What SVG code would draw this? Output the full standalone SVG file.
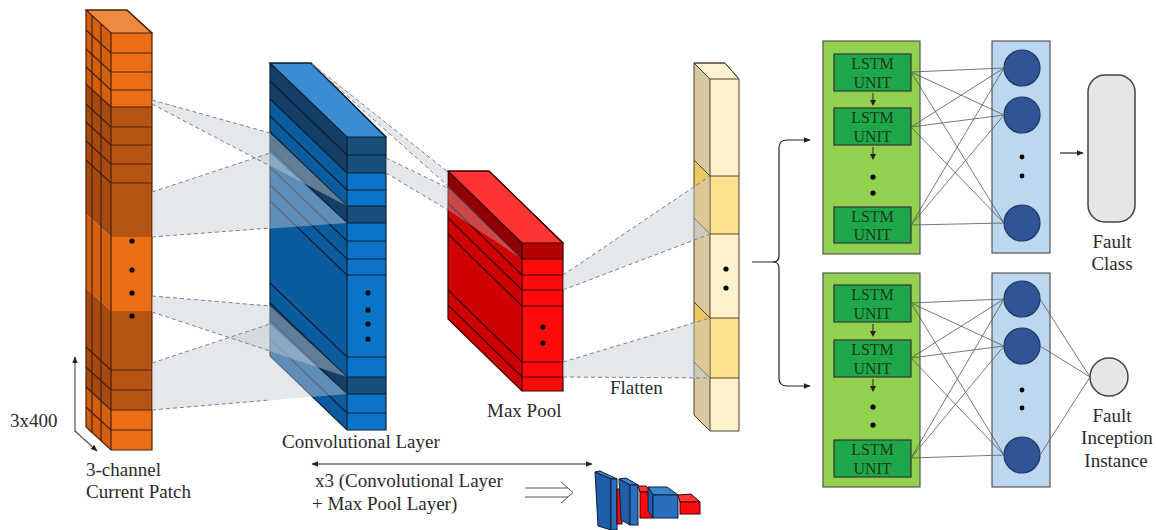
<svg xmlns="http://www.w3.org/2000/svg" width="1156" height="530" viewBox="0 0 1156 530">
<defs>
<style>
.lbl{font-family:"Liberation Serif",serif;font-size:19px;fill:#2b2b2b}
.lstm{font-family:"Liberation Serif",serif;font-size:16px;fill:#1c3a1c;text-anchor:middle}
.ln{stroke:#4a2008;stroke-width:1.2;fill:none}
.bl{stroke:#0b1e33;stroke-width:1.2;fill:none}
.rl{stroke:#3a0000;stroke-width:1.2;fill:none}
.fl{stroke:#4a4030;stroke-width:1;fill:none}
.proj{fill:#c3cad5;fill-opacity:.45;stroke:none}
.dash{stroke:#808080;stroke-width:1;stroke-dasharray:4 3;fill:none}
.fc{stroke:#555;stroke-width:.8;fill:none}
.arr{stroke:#222;stroke-width:1.2;fill:none}
.dot{fill:#000}
.gp{fill:#92d050;stroke:#555;stroke-width:1.2}
.lu{fill:#1fa84a;stroke:#333;stroke-width:1.2}
.bp{fill:#bdd7ee;stroke:#555;stroke-width:1.2}
.nc{fill:#2f5597;stroke:#1f3864;stroke-width:1.2}
.out{fill:#e6e6e6;stroke:#444;stroke-width:1.5}
.head{fill:#222}
</style>
<marker id="ah" viewBox="0 0 10 10" refX="9" refY="5" markerWidth="7" markerHeight="7" orient="auto-start-reverse" markerUnits="userSpaceOnUse">
<path d="M0,1 L10,5 L0,9 z" fill="#222"/>
</marker>
</defs>

<!-- Orange input column -->
<g id="input">
<rect x="111" y="33" width="41" height="74" fill="#ec6e14"/>
<rect x="111" y="107" width="41" height="130" fill="#b65414"/>
<rect x="111" y="237" width="41" height="74" fill="#ec6e14"/>
<rect x="111" y="311" width="41" height="99" fill="#b65414"/>
<rect x="111" y="410" width="41" height="40" fill="#ec6e14"/>
<polygon points="86,10 111,33 111,107 86,84" fill="#d2600f"/>
<polygon points="86,84 111,107 111,237 86,214" fill="#a54a10"/>
<polygon points="86,214 111,237 111,311 86,288" fill="#d2600f"/>
<polygon points="86,288 111,311 111,410 86,387" fill="#a54a10"/>
<polygon points="86,387 111,410 111,450 86,427" fill="#d2600f"/>
<polygon points="86,10 127,10 152,33 111,33" class="ln" style="fill:#ee8a40"/>
<path class="ln" d="M111,53H152M111,72H152M111,90H152M111,107H152M111,127H152M111,145H152M111,164H152M111,183H152M111,370H152M111,390H152M111,410H152M111,430H152"/>
<path class="ln" d="M86,30L111,53M86,49L111,72M86,67L111,90M86,84L111,107M86,104L111,127M86,122L111,145M86,141L111,164M86,160L111,183M86,347L111,370M86,367L111,390M86,387L111,410M86,407L111,430"/>
<path class="ln" d="M92,15.5V432.5M101,24V441"/>
<polygon points="86,10 127,10 152,33 152,450 111,450 86,427" class="ln"/>
<line x1="111" y1="33" x2="111" y2="450" class="ln"/>
<circle class="dot" cx="132" cy="241" r="2.6"/>
<circle class="dot" cx="132" cy="270" r="2.6"/>
<circle class="dot" cx="132" cy="293" r="2.6"/>
<circle class="dot" cx="132" cy="316" r="2.6"/>
</g>

<!-- Blue convolutional block -->
<g id="conv">
<rect x="347" y="137" width="39" height="36" fill="#174e7c"/>
<rect x="347" y="173" width="39" height="33" fill="#0a74c6"/>
<rect x="347" y="206" width="39" height="17" fill="#174e7c"/>
<rect x="347" y="223" width="39" height="154" fill="#0a74c6"/>
<rect x="347" y="377" width="39" height="17" fill="#174e7c"/>
<rect x="347" y="394" width="39" height="36" fill="#0a74c6"/>
<polygon points="270,63 347,137 347,173 270,99" fill="#133f66"/>
<polygon points="270,99 347,173 347,206 270,132" fill="#0b5c9f"/>
<polygon points="270,132 347,206 347,223 270,149" fill="#133f66"/>
<polygon points="270,149 347,223 347,377 270,303" fill="#0b5c9f"/>
<polygon points="270,303 347,377 347,394 270,320" fill="#133f66"/>
<polygon points="270,320 347,394 347,430 270,356" fill="#0b5c9f"/>
<polygon points="270,63 311,63 386,137 347,137" class="bl" style="fill:#3a8dd3"/>
<path class="bl" d="M347,155H386M347,173H386M347,190H386M347,206H386M347,223H386M347,241H386M347,259H386M347,275H386M347,357H386M347,377H386M347,394H386M347,413H386"/>
<path class="bl" d="M270,81L347,155M270,99L347,173M270,116L347,190M270,132L347,206M270,149L347,223M270,167L347,241M270,185L347,259M270,201L347,275M270,283L347,357M270,303L347,377M270,320L347,394M270,339L347,413"/>
<polygon points="270,63 311,63 386,137 386,430 347,430 270,356" class="bl"/>
<line x1="347" y1="137" x2="347" y2="430" class="bl"/>
<circle class="dot" cx="368" cy="293" r="2.6"/>
<circle class="dot" cx="368" cy="310" r="2.6"/>
<circle class="dot" cx="368" cy="324" r="2.6"/>
<circle class="dot" cx="368" cy="339" r="2.6"/>
</g>

<!-- projections input -> conv -->
<g id="proj-input-conv">
<polygon class="proj" points="152,100 270,133 347,206 152,104"/>
<polygon class="proj" points="152,192 270,153 347,223 152,237"/>
<polygon class="proj" points="152,296 270,306 347,377 152,312"/>
<polygon class="proj" points="152,363 270,324 347,394 152,410"/>
<path class="dash" d="M152,100L270,133M152,104L270,166M152,192L270,153M152,237L270,228M152,296L270,306M152,312L270,351M152,363L270,324M152,410L270,400"/>
</g>

<!-- Red max pool block -->
<g id="maxpool">
<rect x="522" y="243" width="41" height="16" fill="#b50000"/>
<rect x="522" y="259" width="41" height="132" fill="#ff0a0a"/>
<polygon points="448,171 522,243 522,259 448,187" fill="#900000"/>
<polygon points="448,187 522,259 522,391 448,319" fill="#cf0000"/>
<polygon points="448,171 489,171 563,243 522,243" class="rl" style="fill:#ff3535"/>
<path class="rl" d="M522,259H563M522,275H563M522,290H563M522,306H563M522,362H563M522,377H563"/>
<path class="rl" d="M448,187L522,259M448,203L522,275M448,218L522,290M448,234L522,306M448,290L522,362M448,305L522,377"/>
<polygon points="448,171 489,171 563,243 563,391 522,391 448,319" class="rl"/>
<line x1="522" y1="243" x2="522" y2="391" class="rl"/>
<circle class="dot" cx="543" cy="327" r="2.6"/>
<circle class="dot" cx="543" cy="343" r="2.6"/>
</g>

<!-- projections conv -> maxpool -->
<g id="proj-conv-pool">
<polygon class="proj" points="312,64 448,172 448,186 326,77"/>
<polygon class="proj" points="386,158 448,188 448,210 386,173"/>
<polygon class="proj" points="448,186 522,259 448,210" style="fill-opacity:.35"/>
<path class="dash" d="M312,64L448,172M326,77L448,186M386,158L448,188M386,173L448,210"/>
</g>

<!-- Flatten column -->
<g id="flatten">
<rect x="710" y="79" width="29" height="97" fill="#fff2cc"/>
<rect x="710" y="176" width="29" height="58" fill="#ffe08c"/>
<rect x="710" y="234" width="29" height="84" fill="#fff2cc"/>
<rect x="710" y="318" width="29" height="60" fill="#ffe08c"/>
<rect x="710" y="378" width="29" height="53" fill="#fff2cc"/>
<polygon points="694,63 710,79 710,176 694,160" fill="#d8c8a0"/>
<polygon points="694,160 710,176 710,234 694,218" fill="#eec662"/>
<polygon points="694,218 710,234 710,318 694,302" fill="#d8c8a0"/>
<polygon points="694,302 710,318 710,378 694,362" fill="#eec662"/>
<polygon points="694,362 710,378 710,431 694,415" fill="#d8c8a0"/>
<polygon points="694,63 725,63 739,79 710,79" class="fl" style="fill:#fff3d2"/>
<path class="fl" d="M710,176H739M710,234H739M710,318H739M710,378H739M694,160L710,176M694,218L710,234M694,302L710,318M694,362L710,378"/>
<polygon points="694,63 725,63 739,79 739,431 710,431 694,415" class="fl"/>
<line x1="710" y1="79" x2="710" y2="431" class="fl"/>
<circle class="dot" cx="726" cy="269" r="2.6"/>
<circle class="dot" cx="726" cy="288" r="2.6"/>
</g>

<!-- projections maxpool -> flatten -->
<g id="proj-pool-flatten">
<polygon class="proj" points="563,275 710,176 710,234 563,290"/>
<polygon class="proj" points="563,362 710,318 710,378 563,377"/>
<path class="dash" d="M563,275L710,176M563,290L710,234M563,362L710,318M563,377L710,378"/>
</g>

<!-- LSTM branch 1 -->
<g id="lstm1">
<rect class="gp" x="823" y="41" width="97" height="213"/>
<rect class="lu" x="834" y="54" width="77" height="37"/>
<rect class="lu" x="834" y="108" width="77" height="37"/>
<rect class="lu" x="834" y="207" width="77" height="36"/>
<text class="lstm" x="872.5" y="69">LSTM</text>
<text class="lstm" x="872.5" y="88">UNIT</text>
<text class="lstm" x="872.5" y="123">LSTM</text>
<text class="lstm" x="872.5" y="142">UNIT</text>
<text class="lstm" x="872.5" y="222">LSTM</text>
<text class="lstm" x="872.5" y="240">UNIT</text>
<circle class="dot" cx="873" cy="177" r="2.6"/>
<circle class="dot" cx="873" cy="193" r="2.6"/>
</g>
<g id="dense1">
<rect class="bp" x="992" y="41" width="58" height="212"/>
<circle class="nc" cx="1022" cy="68" r="18"/>
<circle class="nc" cx="1022" cy="115" r="18"/>
<circle class="nc" cx="1022" cy="223" r="18"/>
<circle class="dot" cx="1022" cy="157" r="2.4"/>
<circle class="dot" cx="1022" cy="176" r="2.4"/>
</g>

<!-- LSTM branch 2 -->
<g id="lstm2">
<rect class="gp" x="823" y="273" width="97" height="214"/>
<rect class="lu" x="834" y="285" width="77" height="37"/>
<rect class="lu" x="834" y="340" width="77" height="37"/>
<rect class="lu" x="834" y="440" width="77" height="37"/>
<text class="lstm" x="872.5" y="300">LSTM</text>
<text class="lstm" x="872.5" y="319">UNIT</text>
<text class="lstm" x="872.5" y="355">LSTM</text>
<text class="lstm" x="872.5" y="374">UNIT</text>
<text class="lstm" x="872.5" y="455">LSTM</text>
<text class="lstm" x="872.5" y="474">UNIT</text>
<circle class="dot" cx="873" cy="407" r="2.6"/>
<circle class="dot" cx="873" cy="425" r="2.6"/>
</g>
<g id="dense2">
<rect class="bp" x="992" y="273" width="58" height="214"/>
<circle class="nc" cx="1022" cy="299" r="18"/>
<circle class="nc" cx="1022" cy="346" r="18"/>
<circle class="nc" cx="1022" cy="455" r="18"/>
<circle class="dot" cx="1022" cy="390" r="2.4"/>
<circle class="dot" cx="1022" cy="408" r="2.4"/>
</g>

<!-- outputs -->
<g id="fault-class">
<rect class="out" x="1088" y="75" width="47" height="147" rx="17"/>
<text class="lbl" x="1112" y="248" text-anchor="middle">Fault</text>
<text class="lbl" x="1112" y="270" text-anchor="middle">Class</text>
</g>
<g id="fault-inception">
<circle class="out" cx="1109" cy="377" r="19"/>
<text class="lbl" x="1112" y="422" text-anchor="middle">Fault</text>
<text class="lbl" x="1117" y="444" text-anchor="middle">Inception</text>
<text class="lbl" x="1116" y="467" text-anchor="middle">Instance</text>
</g>

<!-- connectors -->
<g id="connectors">
<path class="fc" d="M911,72L1004,68M911,72L1004,115M911,72L1004,223M911,127L1004,68M911,127L1004,115M911,127L1004,223M911,225L1004,68M911,225L1004,115M911,225L1004,223"/>
<path class="fc" d="M911,303L1004,299M911,303L1004,346M911,303L1004,455M911,358L1004,299M911,358L1004,346M911,358L1004,455M911,458L1004,299M911,458L1004,346M911,458L1004,455"/>
<path class="fc" d="M1040,299L1090,377M1040,346L1090,377M1040,455L1090,377"/>
<path d="M873,93V101M873,147V155M873,324V332M873,379V387" stroke="#222" stroke-width="1" fill="none"/>
<path class="head" d="M870,100H876L873,106zM870,154H876L873,160zM870,331H876L873,337zM870,386H876L873,392z"/>
<path class="arr" d="M752,262H773Q779,262 779,256V148Q779,140 787,140H810" marker-end="url(#ah)"/>
<path class="arr" d="M773,262Q779,262 779,268V378Q779,386 787,386H810" marker-end="url(#ah)"/>
<path class="arr" d="M1060,153H1083" marker-end="url(#ah)"/>
<path class="arr" d="M312,464H592" marker-start="url(#ah)" marker-end="url(#ah)"/>
<path class="arr" d="M75,432V357" marker-end="url(#ah)" style="stroke:#555"/>
<path class="arr" d="M75,431L97,451" marker-end="url(#ah)" style="stroke:#555"/>
<path d="M525,488H568M525,497H568M561,482L573,492.5L561,503" fill="none" stroke="#555" stroke-width="1"/>
</g>

<!-- mini network icon -->
<g id="mini">
<polygon points="595,472 600,471 617,479 611,479" fill="#3a84d0" stroke="#0b1e33" stroke-width="1"/>
<polygon points="595,472 611,479 611,530 598,526" fill="#1f5faa" stroke="#0b1e33" stroke-width="1"/>
<rect x="611" y="479" width="6" height="51" fill="#2a6ec0" stroke="#0b1e33" stroke-width="1"/>
<rect x="617" y="489" width="5" height="35" fill="#ff0a0a" stroke="#3a0000" stroke-width="1"/>
<polygon points="619,479 626,478 638,485 630,485" fill="#3a84d0" stroke="#0b1e33" stroke-width="1"/>
<polygon points="619,479 630,485 630,525 621,520" fill="#1f5faa" stroke="#0b1e33" stroke-width="1"/>
<rect x="630" y="485" width="8" height="40" fill="#2a6ec0" stroke="#0b1e33" stroke-width="1"/>
<polygon points="638,486 646,486 652,492 640,492" fill="#ff3535" stroke="#3a0000" stroke-width="1"/>
<rect x="640" y="492" width="12" height="26" fill="#ff0a0a" stroke="#3a0000" stroke-width="1"/>
<polygon points="648,487 667,487 678,495 653,495" fill="#3a84d0" stroke="#0b1e33" stroke-width="1"/>
<polygon points="648,487 653,495 653,518 648,511" fill="#1f5faa" stroke="#0b1e33" stroke-width="1"/>
<rect x="653" y="495" width="25" height="23" fill="#2a6ec0" stroke="#0b1e33" stroke-width="1"/>
<polygon points="678,495 691,494 700,502 680,502" fill="#ff3535" stroke="#3a0000" stroke-width="1"/>
<rect x="680" y="502" width="20" height="12" fill="#ff0a0a" stroke="#3a0000" stroke-width="1"/>
</g>

<!-- labels -->
<g id="labels">
<text class="lbl" x="10" y="427">3x400</text>
<text class="lbl" x="86" y="476">3-channel</text>
<text class="lbl" x="86" y="498">Current Patch</text>
<text class="lbl" x="282" y="448">Convolutional Layer</text>
<text class="lbl" x="487" y="417">Max Pool</text>
<text class="lbl" x="610" y="394">Flatten</text>
<text class="lbl" x="315" y="487">x3 (Convolutional Layer</text>
<text class="lbl" x="312" y="510">+ Max Pool Layer)</text>
</g>
</svg>
